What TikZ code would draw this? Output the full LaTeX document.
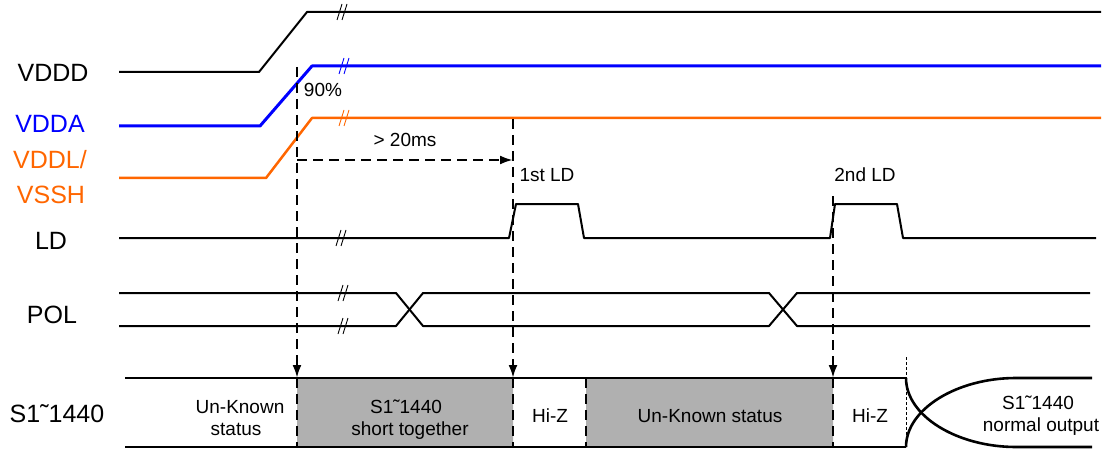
\documentclass[tikz,border=0pt]{standalone}
\usepackage{fontspec}
\setmainfont{Liberation Sans}
\usetikzlibrary{arrows.meta}
\definecolor{vddablue}{RGB}{0,0,255}
\definecolor{vddlorange}{RGB}{255,102,0}
\definecolor{busgray}{RGB}{176,176,176}
\begin{document}
\begin{tikzpicture}[x=1pt,y=-1pt,line join=round,>={Latex[length=13pt,width=9pt]},
	sig/.style={line width=2pt},
	bus/.style={line width=2.6pt},
	dsh/.style={line width=2.4pt,dash pattern=on 10pt off 6pt},
	lbl/.style={inner sep=0pt,anchor=base,font=\fontsize{25}{30}\selectfont},
	txt/.style={inner sep=0pt,anchor=base,font=\fontsize{19}{22}\selectfont},
	brk/.pic={\draw[line width=0.9pt] (-6,8)--(-1,-8) (-1,8)--(4,-8);}]
	\useasboundingbox (0,0) rectangle (1107,449);
	% supply rails
	\draw[sig] (119,72)--(259,72)--(307,12)--(1101,12);
	\draw[sig,vddablue,line width=3pt] (119,126)--(260,126)--(312,66)--(1101,66);
	\draw[sig,vddlorange,line width=2.5pt] (119,178)--(266,178)--(312,118)--(1101,118);
	\pic at (343,12) {brk};
	\pic[vddablue] at (345,66) {brk};
	\pic[vddlorange] at (345,118) {brk};
	% LD and POL
	\draw[sig] (119,238)--(509,238)--(516,204)--(578,204)--(584,238)--(830,238)--(835,204)--(897,204)--(903,238)--(1096,238);
	\draw[sig] (119,293)--(396,293)--(423,326)--(769,326)--(797,293)--(1090,293);
	\draw[sig] (119,326)--(396,326)--(423,293)--(769,293)--(797,326)--(1090,326);
	\pic at (342,238) {brk};
	\pic at (344,293) {brk};
	\pic at (344,326) {brk};
	% source bus
	\fill[busgray] (297,378) rectangle (513,447) (586,378) rectangle (833,447);
	\draw[bus] (125,378)--(906,378) (125,447)--(906,447);
	\draw[bus] (906,378) .. controls (906,416) and (957,447) .. (1016,447)--(1092,447);
	\draw[bus] (906,447) .. controls (906,409) and (957,378) .. (1016,378)--(1092,378);
	\draw[densely dashed,line width=0.8pt] (906,357)--(906,447);
	% timing marks
	\coordinate (p90) at (297,67);
	\coordinate (ld1) at (513,119);
	\coordinate (ld2) at (833,196);
	\draw[dsh,->] (p90)--(297,378);
	\draw[dsh] (297,378)--(297,447);
	\draw[dsh,->] (ld1)--(513,378);
	\draw[dsh] (513,378)--(513,447);
	\draw[dsh,->] (ld2)--(833,378);
	\draw[dsh] (833,378)--(833,447);
	\draw[dsh] (586,378)--(586,447);
	\draw[dsh,->] (297,160)--(513,160);
	% labels
	\node[lbl] (vddd) at (53,82) {VDDD};
	\node[lbl,text=vddablue] (vdda) at (50,133) {VDDA};
	\node[lbl,text=vddlorange] (vddl) at (50,168) {VDDL/};
	\node[lbl,text=vddlorange] (vssh) at (51,203) {VSSH};
	\node[lbl] (ld) at (51,249) {LD};
	\node[lbl] (pol) at (52,323) {POL};
	\node[lbl] (sx) at (57,422) {S1\symbol{"02DC}1440};
	\node[txt] (pct) at (323,97) {90\%};
	\node[txt] (dly) at (405,147) {> 20ms};
	\node[txt] (ldone) at (547,182) {1st LD};
	\node[txt] (ldtwo) at (865,182) {2nd LD};
	\node[txt] (unk) at (240,413) {Un-Known};
	\node[txt] (unkb) at (236,435) {status};
	\node[txt] (sht) at (406,413) {S1\symbol{"02DC}1440};
	\node[txt] (shtb) at (410,435) {short together};
	\node[txt] (hz) at (550,422) {Hi-Z};
	\node[txt] (unkc) at (710,422) {Un-Known status};
	\node[txt] (hzb) at (870,422) {Hi-Z};
	\node[txt] (nrm) at (1038,409) {S1\symbol{"02DC}1440};
	\node[txt] (nrmb) at (1041,431) {normal output};
\end{tikzpicture}
\end{document}
